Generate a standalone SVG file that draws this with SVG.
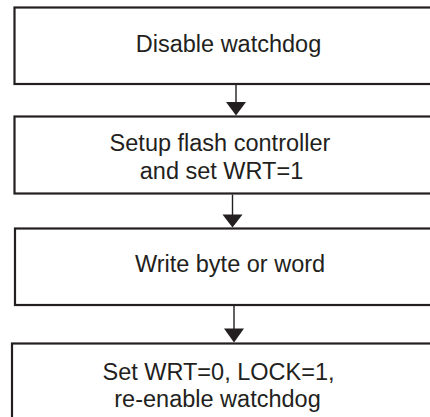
<svg xmlns="http://www.w3.org/2000/svg" width="430" height="417" viewBox="0 0 430 417">
<style>
.box{fill:#fff;stroke:#231f20;stroke-width:2.2}
.t{font-family:"Liberation Sans",Arial,sans-serif;font-size:23.5px;fill:#231f20;text-anchor:middle}
.c{stroke:#231f20;stroke-width:1.4;fill:none}
.h{fill:#231f20}
</style>
<rect width="430" height="417" fill="#fff"/>
<g id="node1"><rect class="box" x="14.5" y="7.5" width="440" height="76.5"/><text class="t" x="228.5" y="52">Disable watchdog</text></g>
<g id="node2"><rect class="box" x="14.5" y="116.5" width="440" height="77"/><text class="t" x="220" y="151">Setup flash controller</text><text class="t" x="221.5" y="179">and set WRT=1</text></g>
<g id="node3"><rect class="box" x="15" y="228.5" width="440" height="76.5"/><text class="t" x="230" y="272">Write byte or word</text></g>
<g id="node4"><rect class="box" x="12" y="343.5" width="440" height="90"/><text class="t" x="218.5" y="380">Set WRT=0, LOCK=1,</text><text class="t" x="217.5" y="407">re-enable watchdog</text></g>
<g id="connectors">
<line class="c" x1="236" y1="85" x2="236" y2="103"/><polygon class="h" points="226,102 246,102 236,115.5"/>
<line class="c" x1="232.5" y1="194.5" x2="232.5" y2="215"/><polygon class="h" points="222.5,214.5 242.5,214.5 232.5,227.5"/>
<line class="c" x1="234" y1="306" x2="234" y2="329"/><polygon class="h" points="224,328.5 244,328.5 234,342.5"/>
</g>
</svg>
